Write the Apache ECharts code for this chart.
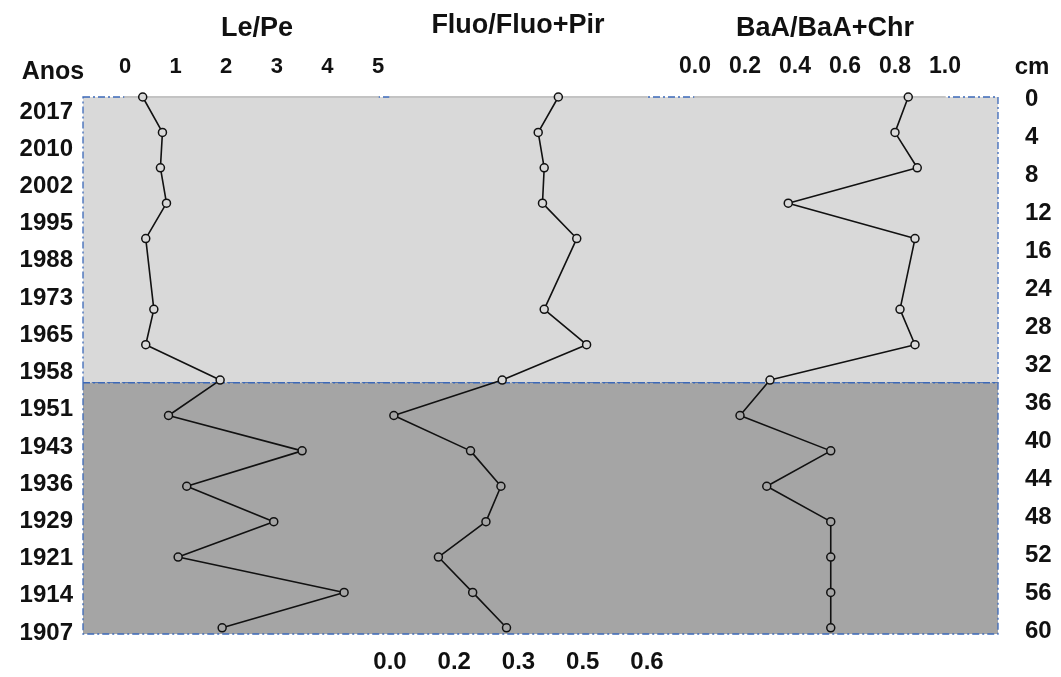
<!DOCTYPE html>
<html>
<head>
<meta charset="utf-8">
<script src="https://cdn.jsdelivr.net/npm/echarts@6/dist/echarts.min.js"></script>
<style>
html,body{margin:0;padding:0;background:#fff;}
#c{width:1061px;height:677px;}
</style>
</head>
<body>
<div id="c"></div>
<script>
// ---- data ----
var depths = [0, 4, 8, 12, 16, 24, 28, 32, 36, 40, 44, 48, 52, 56, 60];
var years = ['2017','2010','2002','1995','1988','1973','1965','1958','1951','1943','1936','1929','1921','1914','1907'];
var cmLabels = ['0','4','8','12','16','24','28','32','36','40','44','48','52','56','60'];
var lePe = [0.35, 0.74, 0.70, 0.82, 0.41, 0.57, 0.41, 1.88, 0.86, 3.50, 1.22, 2.94, 1.05, 4.33, 1.92];
var fluoPir = [0.393, 0.346, 0.360, 0.356, 0.436, 0.360, 0.459, 0.262, 0.009, 0.188, 0.259, 0.224, 0.113, 0.193, 0.272];
var baaChr = [0.853, 0.80, 0.889, 0.373, 0.88, 0.82, 0.88, 0.30, 0.18, 0.543, 0.287, 0.543, 0.543, 0.543, 0.543];
var lePeTicks = ['0','1','2','3','4','5'];
var fluoTicks = ['0.0','0.2','0.3','0.5','0.6'];
var baaTicks = ['0.0','0.2','0.4','0.6','0.8','1.0'];
var zoneBreak = 32.3;   // boundary between upper (light) and lower (dark) zones, cm
var depthMax = 60.7;

var FONT = '"Liberation Sans", Arial, sans-serif';
var LIGHT = '#d9d9d9', DARK = '#a5a5a5', BLUE = '#3b68b8', AXISGRAY = '#c3c3c3';

function pairs(vals){
  return depths.map(function(d,i){
    return {value:[vals[i], d], itemStyle:{color: d <= zoneBreak ? LIGHT : DARK}};
  });
}

var chart = echarts.init(document.getElementById('c'), null, {renderer:'canvas'});

var depthAxis = function(gi){
  return {type:'value', gridIndex:gi, inverse:true, min:0, max:depthMax, show:false};
};

var profileSeries = function(name, vals, xi){
  return {
    name:name, type:'line', xAxisIndex:xi, yAxisIndex:xi, z:5,
    data:pairs(vals), symbol:'circle', symbolSize:8, clip:false,
    lineStyle:{color:'#111', width:1.6},
    itemStyle:{borderColor:'#111', borderWidth:1.5},
    animation:false
  };
};

var option = {
  animation:false,
  backgroundColor:'#fff',
  textStyle:{fontFamily:FONT},
  title:[
    {text:'Le/Pe', left:252, top:10, textAlign:'center', textStyle:{fontFamily:FONT, fontSize:27, fontWeight:'bold', color:'#111'}},
    {text:'Fluo/Fluo+Pir', left:513, top:7, textAlign:'center', textStyle:{fontFamily:FONT, fontSize:27, fontWeight:'bold', color:'#111'}},
    {text:'BaA/BaA+Chr', left:820, top:10, textAlign:'center', textStyle:{fontFamily:FONT, fontSize:27, fontWeight:'bold', color:'#111'}},
    {text:'Anos', left:48, top:55, textAlign:'center', textStyle:{fontFamily:FONT, fontSize:25, fontWeight:'bold', color:'#111'}},
    {text:'cm', left:1027, top:50, textAlign:'center', textStyle:{fontFamily:FONT, fontSize:24, fontWeight:'bold', color:'#111'}}
  ],
  grid:[
    {left:83, right:63, top:97, bottom:43},            // 0 background frame
    {left:125, right:683, top:97, bottom:43},          // 1 Le/Pe
    {left:390, right:414, top:97, bottom:43},          // 2 Fluo
    {left:695, right:116, top:97, bottom:43},          // 3 BaA
    {left:80, width:1, top:112, bottom:44},            // 4 years labels
    {left:1017, width:1, top:99, bottom:46}            // 5 cm labels
  ],
  xAxis:[
    {type:'value', gridIndex:0, min:0, max:1, show:false},
    {type:'value', gridIndex:1, min:0, max:5, interval:1, position:'top', z:4,
      axisLine:{show:true, lineStyle:{color:AXISGRAY, width:2}}, axisTick:{show:false}, splitLine:{show:false},
      axisLabel:{margin:30, verticalAlign:'middle', fontFamily:FONT, fontSize:22, fontWeight:'bold', color:'#111',
        formatter:function(v){ return lePeTicks[Math.round(v)]; }}},
    {type:'value', gridIndex:2, min:0, max:0.6, interval:0.15, position:'bottom', z:4,
      axisLine:{show:false}, axisTick:{show:false}, splitLine:{show:false},
      axisLabel:{margin:28, verticalAlign:'middle', fontFamily:FONT, fontSize:24, fontWeight:'bold', color:'#111',
        formatter:function(v){ return fluoTicks[Math.round(v/0.15)]; }}},
    {type:'value', gridIndex:3, min:0, max:1, interval:0.2, position:'top', z:4,
      axisLine:{show:true, lineStyle:{color:AXISGRAY, width:2}}, axisTick:{show:false}, splitLine:{show:false},
      axisLabel:{margin:30, verticalAlign:'middle', fontFamily:FONT, fontSize:23, fontWeight:'bold', color:'#111',
        formatter:function(v){ return baaTicks[Math.round(v/0.2)]; }}},
    {type:'value', gridIndex:4, show:false},
    {type:'value', gridIndex:5, show:false},
    {type:'value', gridIndex:2, min:0, max:0.6, position:'top', z:4,
      axisLine:{show:true, lineStyle:{color:AXISGRAY, width:2}}, axisTick:{show:false}, axisLabel:{show:false}, splitLine:{show:false}}
  ],
  yAxis:[
    depthAxis(0), depthAxis(1), depthAxis(2), depthAxis(3),
    {type:'category', gridIndex:4, data:years, inverse:true, boundaryGap:false, position:'left',
      axisLine:{show:false}, axisTick:{show:false}, splitLine:{show:false},
      axisLabel:{margin:7, fontFamily:FONT, fontSize:24, fontWeight:'bold', color:'#111', interval:0}},
    {type:'category', gridIndex:5, data:cmLabels, inverse:true, boundaryGap:false, position:'right',
      axisLine:{show:false}, axisTick:{show:false}, splitLine:{show:false},
      axisLabel:{margin:7, fontFamily:FONT, fontSize:24, fontWeight:'bold', color:'#111', interval:0}}
  ],
  series:[
    {type:'line', xAxisIndex:0, yAxisIndex:0, z:1, data:[], silent:true,
      markArea:{silent:true, data:[
        [{yAxis:0, itemStyle:{color:LIGHT, borderColor:BLUE, borderWidth:1.3, borderType:[7,3,2,3]}}, {yAxis:zoneBreak}],
        [{yAxis:zoneBreak, itemStyle:{color:DARK, borderColor:BLUE, borderWidth:1.3, borderType:[7,3,2,3]}}, {yAxis:depthMax}]
      ]}},
    profileSeries('Le/Pe', lePe, 1),
    profileSeries('Fluo/Fluo+Pir', fluoPir, 2),
    profileSeries('BaA/BaA+Chr', baaChr, 3)
  ]
};
chart.setOption(option);
</script>
</body>
</html>
